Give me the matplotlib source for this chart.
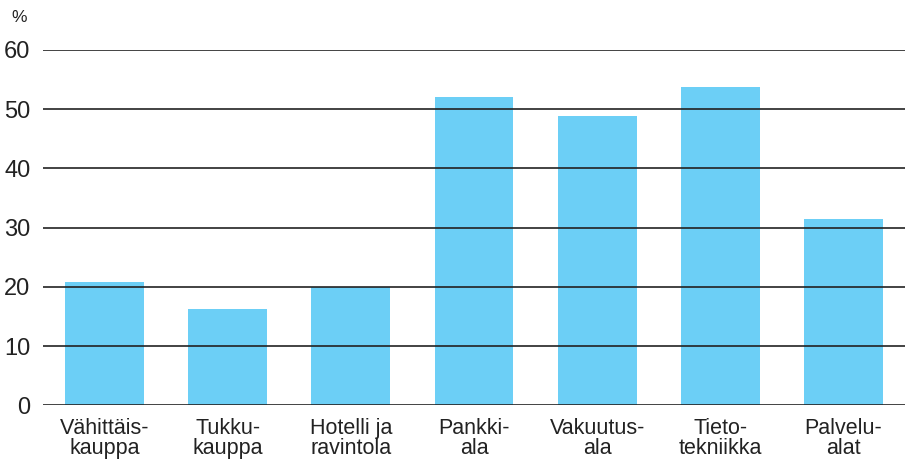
import matplotlib.pyplot as plt

plt.rcParams['font.family'] = ['Liberation Sans', 'DejaVu Sans']

# Data
categories = ["Vähittäis-\nkauppa", "Tukku-\nkauppa", "Hotelli ja\nravintola", "Pankki-\nala",
              "Vakuutus-\nala", "Tieto-\ntekniikka", "Palvelu-\nalat"]
values = [20.8, 16.2, 19.9, 52.1, 48.8, 53.8, 31.5]
yticks = [0, 10, 20, 30, 40, 50, 60]

fig = plt.figure(figsize=(9.05, 4.62), dpi=100)
ax = fig.add_axes([43 / 905, (462 - 405.3) / 462, 1 - 43 / 905, 355.3 / 462])

x = range(len(categories))
ax.bar(x, values, width=0.64, color="#6ccff6", zorder=1)

for t in yticks:
    ax.axhline(t, color="#222222", linewidth=1.2, zorder=2)

ax.set_xlim(-0.5, len(categories) - 0.5)
ax.set_ylim(0, 60)
ax.set_yticks(yticks)
ax.set_yticklabels([str(t) for t in yticks], fontsize=17, color="#222222")
ax.set_xticks(list(x))
ax.set_xticklabels(categories, fontsize=15.5, color="#222222", linespacing=0.98)
ax.tick_params(axis="both", length=0)
ax.tick_params(axis="y", pad=9)
ax.tick_params(axis="x", pad=9)
for s in ax.spines.values():
    s.set_visible(False)

fig.text(11 / 905, 1 - 17 / 462, "%", fontsize=12.5, color="#222222", va="center")

fig.savefig("out.png", dpi=100)
